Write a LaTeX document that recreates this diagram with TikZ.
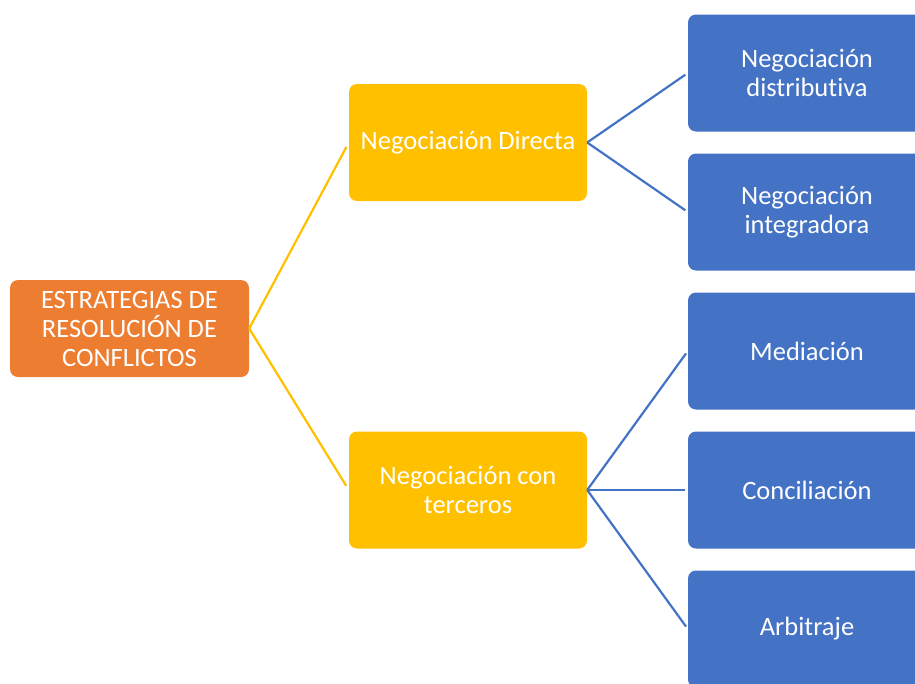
\documentclass[tikz,border=0pt]{standalone}
\usepackage{fontspec}
\setmainfont{Carlito}[Ligatures={NoCommon}]
\definecolor{rootorange}{HTML}{ED7D31}
\definecolor{midgold}{HTML}{FFC000}
\definecolor{leafblue}{HTML}{4472C4}
\tikzset{
  box/.style={rectangle, rounded corners=8pt, text=white, align=center,
    inner sep=0pt, minimum width=238pt, minimum height=117pt,
    font=\fontsize{26.5}{29}\selectfont},
  rootbox/.style={box, fill=rootorange, minimum width=239pt, minimum height=97pt},
  midbox/.style={box, fill=midgold},
  leafbox/.style={box, fill=leafblue},
  goldlink/.style={draw=midgold, line width=2.2pt, shorten >=5pt},
  bluelink/.style={draw=leafblue, line width=2.2pt, shorten >=3pt},
}
\begin{document}
\begin{tikzpicture}[x=1pt, y=-1pt]
  \useasboundingbox (0,0) rectangle (915,683);
  \clip (0,0) rectangle (915,683);

  % root
  \node[rootbox] (root) at (129.5,328.5) {ESTRATEGIAS DE\\RESOLUCIÓN DE\\CONFLICTOS};

  % second level
  \node[midbox] (direct) at (468,142.5) {Negociación Directa};
  \node[midbox] (third)  at (468,490)   {Negociación con\\terceros};

  % leaves
  \node[leafbox] (distrib) at (807,73)  {Negociación\\distributiva};
  \node[leafbox] (integr)  at (807,212) {Negociación\\integradora};
  \node[leafbox] (medi)    at (807,351) {Mediación};
  \node[leafbox] (conci)   at (807,490) {Conciliación};
  \node[leafbox] (arbi)    at (807,629) {Arbitraje};

  % connectors
  \draw[goldlink] (root.east) -- (direct.west);
  \draw[goldlink] (root.east) -- (third.west);
  \draw[bluelink] (direct.east) -- (distrib.west);
  \draw[bluelink] (direct.east) -- (integr.west);
  \draw[bluelink] (third.east) -- (medi.west);
  \draw[bluelink] (third.east) -- (conci.west);
  \draw[bluelink] (third.east) -- (arbi.west);
\end{tikzpicture}
\end{document}
